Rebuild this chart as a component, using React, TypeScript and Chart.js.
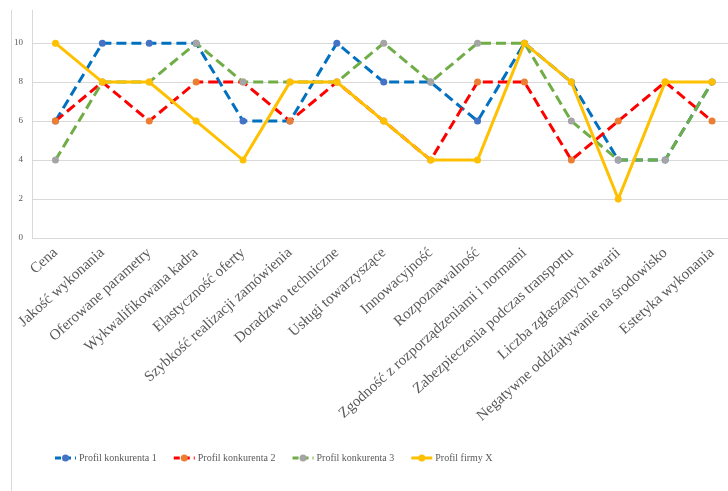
import React, { useEffect, useRef } from "react";
import { Chart, registerables } from "chart.js";

Chart.register(...registerables);

const categories = [
  "Cena",
  "Jakość wykonania",
  "Oferowane parametry",
  "Wykwalifikowana kadra",
  "Elastyczność oferty",
  "Szybkość realizacji zamówienia",
  "Doradztwo techniczne",
  "Usługi towarzyszące",
  "Innowacyjność",
  "Rozpoznawalność",
  "Zgodność z rozporządzeniami i normami",
  "Zabezpieczenia podczas transportu",
  "Liczba zgłaszanych awarii",
  "Negatywne oddziaływanie na środowisko",
  "Estetyka wykonania",
];

const konkurent1 = [6, 10, 10, 10, 6, 6, 10, 8, 8, 6, 10, 8, 4, 4, 8];
const konkurent2 = [6, 8, 6, 8, 8, 6, 8, 6, 4, 8, 8, 4, 6, 8, 6];
const konkurent3 = [4, 8, 8, 10, 8, 8, 8, 10, 8, 10, 10, 6, 4, 4, 8];
const firmaX = [10, 8, 8, 6, 4, 8, 8, 6, 4, 4, 10, 8, 2, 8, 8];

const yTicks = [0, 2, 4, 6, 8, 10];

const seriesNames = [
  "Profil konkurenta 1",
  "Profil konkurenta 2",
  "Profil konkurenta 3",
  "Profil firmy X",
];

const TEXT = "#595959";
const GRID = "#d9d9d9";
const SERIF = "'Liberation Serif', 'Times New Roman', serif";
const DASH = [10, 5];

// Legend drawn on the canvas: dashed/solid stroke, marker dot, then the name
const lineLegend = {
  id: "lineLegend",
  afterDraw(chart: any) {
    const ctx = chart.ctx;
    const y = 458;
    let x = 55;
    ctx.save();
    ctx.font = `10px ${SERIF}`;
    ctx.textBaseline = "middle";
    ctx.textAlign = "left";
    chart.data.datasets.forEach((ds: any) => {
      ctx.beginPath();
      ctx.setLineDash(ds.borderDash && ds.borderDash.length ? [6, 4] : []);
      ctx.strokeStyle = ds.borderColor;
      ctx.lineWidth = 3;
      ctx.moveTo(x, y);
      ctx.lineTo(x + 21, y);
      ctx.stroke();
      ctx.setLineDash([]);
      ctx.beginPath();
      ctx.fillStyle = ds.pointBackgroundColor;
      ctx.arc(x + 10.5, y, 3.5, 0, Math.PI * 2);
      ctx.fill();
      ctx.fillStyle = TEXT;
      ctx.fillText(ds.label, x + 24, y + 0.5);
      x += 24 + ctx.measureText(ds.label).width + 17;
    });
    ctx.restore();
  },
};

// Thin frame line along the left edge of the chart object
const leftFrame = {
  id: "leftFrame",
  beforeDraw(chart: any) {
    const ctx = chart.ctx;
    ctx.save();
    ctx.strokeStyle = GRID;
    ctx.lineWidth = 1;
    ctx.beginPath();
    ctx.moveTo(11.5, 10);
    ctx.lineTo(11.5, chart.height);
    ctx.stroke();
    ctx.restore();
  },
};

export default function App() {
  const ref = useRef<HTMLCanvasElement | null>(null);

  useEffect(() => {
    if (!ref.current) return;
    const mk = (
      label: string,
      data: number[],
      line: string,
      point: string,
      dashed: boolean,
      order: number
    ) => ({
      label,
      data,
      borderColor: line,
      backgroundColor: point,
      pointBackgroundColor: point,
      pointBorderColor: point,
      pointRadius: 3.5,
      pointBorderWidth: 0,
      borderWidth: 3,
      borderDash: dashed ? DASH : [],
      borderCapStyle: "butt" as const,
      tension: 0,
      fill: false,
      order,
    });

    const chart = new Chart(ref.current, {
      type: "line",
      data: {
        labels: categories,
        datasets: [
          mk(seriesNames[0], konkurent1, "#0070C0", "#4472C4", true, 3),
          mk(seriesNames[1], konkurent2, "#FF0000", "#ED7D31", true, 2),
          mk(seriesNames[2], konkurent3, "#70AD47", "#A5A5A5", true, 1),
          mk(seriesNames[3], firmaX, "#FFC000", "#FFC000", false, 0),
        ],
      },
      options: {
        responsive: false,
        animation: false,
        layout: { padding: { top: 10, right: 4.5, left: 0, bottom: 0 } },
        plugins: {
          legend: { display: false },
          tooltip: { enabled: false },
        },
        scales: {
          x: {
            offset: true,
            grid: { display: false, drawTicks: false },
            border: { display: true, color: GRID },
            ticks: {
              autoSkip: false,
              minRotation: 42,
              maxRotation: 42,
              padding: 6,
              color: TEXT,
              font: { family: SERIF, size: 15 },
            },
            afterFit(scale: any) {
              scale.height = 491 - 238;
            },
          },
          y: {
            min: 0,
            max: 11.7,
            grid: { color: GRID, drawTicks: false },
            border: { display: true, color: GRID },
            ticks: {
              padding: 9,
              color: TEXT,
              font: { family: SERIF, size: 9 },
            },
            afterBuildTicks(scale: any) {
              scale.ticks = yTicks.map((v) => ({ value: v }));
            },
            afterFit(scale: any) {
              scale.width = 32;
              scale.paddingTop = 0;
              scale.paddingBottom = 0;
            },
          },
        },
      },
      plugins: [leftFrame, lineLegend],
    });
    return () => chart.destroy();
  }, []);

  return (
    <div
      style={{
        position: "fixed",
        left: 0,
        top: 0,
        width: 728,
        height: 491,
        overflow: "hidden",
        background: "#ffffff",
      }}
    >
      <canvas ref={ref} width={740} height={491} style={{ display: "block" }} />
    </div>
  );
}
